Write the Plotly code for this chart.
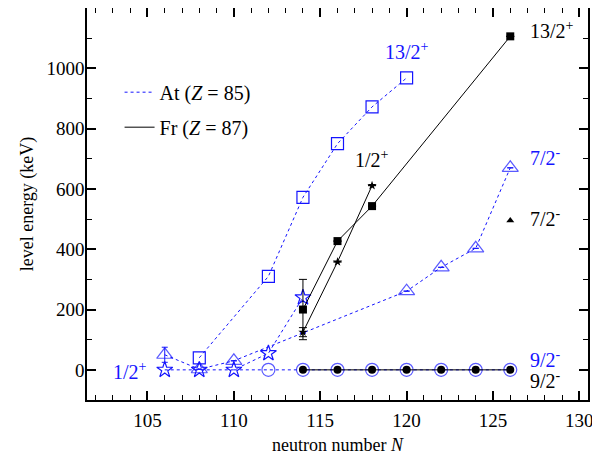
import plotly.graph_objects as go

# ---- data ----
# At (Z=85)
at_132_N = [108, 112, 114, 116, 118, 120]
at_132_E = [40, 310, 572, 750, 872, 968]

at_72_N = [106, 108, 110, 114, 120, 122, 124, 126]
at_72_E = [50, 2, 30, 122, 261, 340, 403, 670]
at_72_err = [25, 0, 0, 0, 0, 0, 0, 0]
at_72_show = [1, 1, 1, 0, 1, 1, 1, 1]

at_12_N = [106, 108, 110, 112, 114]
at_12_E = [0, 0, 0, 55, 240]

at_92_N = [110, 112, 114, 116, 118, 120, 122, 124, 126]
at_92_E = [0, 0, 0, 0, 0, 0, 0, 0, 0]
at_92_show = [0, 1, 1, 1, 1, 1, 1, 1, 1]

# Fr (Z=87)
fr_132_N = [114, 116, 118, 126]
fr_132_E = [200, 427, 543, 1106]
fr_132_err = [100, 0, 0, 0]

fr_12_N = [114, 116, 118]
fr_12_E = [125, 358, 611]
fr_12_err = [15, 0, 0]

fr_72_N = [126]
fr_72_E = [495]

fr_92_N = [114, 116, 118, 120, 122, 124, 126]
fr_92_E = [0, 0, 0, 0, 0, 0, 0]

x_ticks = [105, 110, 115, 120, 125, 130]
y_ticks = [0, 200, 400, 600, 800, 1000]

BLUE = "rgb(20,20,255)"
FONT = "Liberation Serif, Times New Roman, DejaVu Serif, serif"
DASH = "3px,3px"

fig = go.Figure()

def sizes(show, s):
    return [s if v else 0 for v in show]

# At lines
fig.add_trace(go.Scatter(x=at_92_N, y=at_92_E, mode="lines+markers",
    line=dict(color=BLUE, width=1, dash=DASH),
    marker=dict(symbol="circle-open", size=sizes(at_92_show, 13), color=BLUE, line=dict(width=1.2)),
    showlegend=False))
fig.add_trace(go.Scatter(x=at_132_N, y=at_132_E, mode="lines+markers",
    line=dict(color=BLUE, width=1, dash=DASH),
    marker=dict(symbol="square-open", size=12, color=BLUE, line=dict(width=1.2)),
    showlegend=False))
fig.add_trace(go.Scatter(x=at_72_N, y=at_72_E, mode="lines+markers",
    line=dict(color=BLUE, width=1, dash=DASH),
    marker=dict(symbol="triangle-up-open", size=sizes(at_72_show, 14), color=BLUE, line=dict(width=1.2)),
    error_y=dict(type="data", array=at_72_err, color=BLUE, thickness=1, width=3),
    showlegend=False))
fig.add_trace(go.Scatter(x=at_12_N, y=at_12_E, mode="lines+markers",
    line=dict(color=BLUE, width=1, dash=DASH),
    marker=dict(symbol="star-open", size=12, color=BLUE, line=dict(width=1.2)),
    showlegend=False))

# Fr lines
fig.add_trace(go.Scatter(x=fr_92_N, y=fr_92_E, mode="lines+markers",
    line=dict(color="black", width=1),
    marker=dict(symbol="circle", size=8, color="black"),
    showlegend=False))
fig.add_trace(go.Scatter(x=fr_132_N, y=fr_132_E, mode="lines+markers",
    line=dict(color="black", width=1),
    marker=dict(symbol="square", size=8, color="black"),
    error_y=dict(type="data", array=fr_132_err, color="black", thickness=1, width=4),
    showlegend=False))
fig.add_trace(go.Scatter(x=fr_12_N, y=fr_12_E, mode="lines+markers",
    line=dict(color="black", width=1),
    marker=dict(symbol="star", size=7, color="black"),
    error_y=dict(type="data", array=fr_12_err, color="black", thickness=1, width=4),
    showlegend=False))
fig.add_trace(go.Scatter(x=fr_72_N, y=fr_72_E, mode="markers",
    marker=dict(symbol="triangle-up", size=7, color="black"),
    showlegend=False))

# legend entries
fig.add_trace(go.Scatter(x=[None], y=[None], mode="lines",
    line=dict(color=BLUE, width=1, dash=DASH),
    name="At (<i>Z</i> = 85)", legendgroup="a"))
fig.add_trace(go.Scatter(x=[None], y=[None], mode="lines",
    line=dict(color="black", width=1),
    name="Fr (<i>Z</i> = 87)", legendgroup="b"))

# state labels
labels = [
    (120.0, 1058, "13/2<sup>+</sup>", BLUE, "center"),
    (127.0, 1127, "13/2<sup>+</sup>", "black", "left"),
    (118.0, 700, "1/2<sup>+</sup>", "black", "center"),
    (127.0, 705, "7/2<sup>-</sup>", BLUE, "left"),
    (127.0, 505, "7/2<sup>-</sup>", "black", "left"),
    (127.0, 36, "9/2<sup>-</sup>", BLUE, "left"),
    (127.0, -34, "9/2<sup>-</sup>", "black", "left"),
    (104.0, -3, "1/2<sup>+</sup>", BLUE, "center"),
]
for x, y, t, c, anc in labels:
    fig.add_annotation(x=x, y=y, text=t, showarrow=False, xanchor=anc,
                       font=dict(family=FONT, size=20, color=c))

axis_common = dict(
    showline=True, linecolor="black", linewidth=1.5, mirror="ticks",
    ticks="inside", ticklen=9, tickwidth=1.5, tickcolor="black",
    showgrid=False, zeroline=False, automargin=False,
    tickfont=dict(family=FONT, size=19, color="black"),
)

fig.update_xaxes(range=[101.5, 130.5], tickvals=x_ticks, ticklabelstandoff=2,
                 minor=dict(dtick=1, ticks="inside", ticklen=5, tickwidth=1, tickcolor="black"),
                 title=dict(text="neutron number <i>N</i>", font=dict(family=FONT, size=18, color="black"), standoff=9),
                 **axis_common)
fig.update_yaxes(range=[-100, 1200], tickvals=y_ticks, ticklabelstandoff=-3,
                 minor=dict(dtick=100, tick0=0, ticks="inside", ticklen=5, tickwidth=1, tickcolor="black"),
                 title=dict(text="level energy (keV)", font=dict(family=FONT, size=18, color="black"), standoff=8),
                 **axis_common)

# page body has an 8px default margin, so the figure is sized/offset to compensate
fig.update_layout(
    width=592, height=450,
    margin=dict(l=79, r=12, t=0, b=58),
    plot_bgcolor="white", paper_bgcolor="white",
    font=dict(family=FONT, size=19, color="black"),
    legend=dict(x=0.065, y=0.835, xanchor="left", yanchor="top",
                bgcolor="rgba(0,0,0,0)", font=dict(family=FONT, size=20),
                tracegroupgap=6, itemwidth=30, traceorder="grouped"),
)

fig.write_html("out.html")
